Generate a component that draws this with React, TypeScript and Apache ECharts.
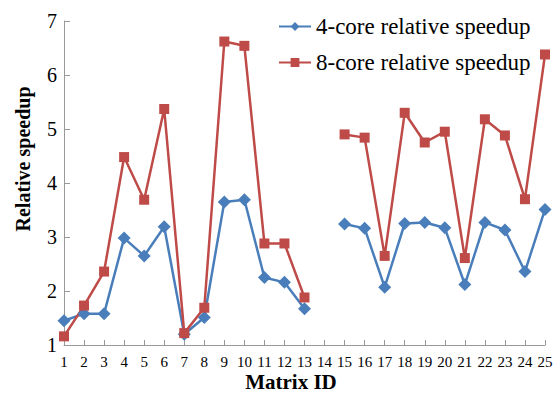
import React, { useEffect, useRef } from "react";
import * as echarts from "echarts";

const categories = ["1","2","3","4","5","6","7","8","9","10","11","12","13","14","15","16","17","18","19","20","21","22","23","24","25"];
const core4 = [1.45,1.58,1.58,2.98,2.65,3.19,1.2,1.51,3.65,3.69,2.25,2.16,1.67,null,3.24,3.16,2.07,3.25,3.27,3.17,2.12,3.27,3.13,2.36,3.51];
const core8 = [1.16,1.73,2.36,4.48,3.69,5.37,1.22,1.69,6.62,6.54,2.88,2.88,1.88,null,4.9,4.84,2.65,5.3,4.75,4.95,2.61,5.18,4.88,3.7,6.38];
const yTicks = { min: 1, max: 7, interval: 1 };
const xTitle = "Matrix ID";
const yTitle = "Relative speedup";

export default function App() {
  const ref = useRef<HTMLDivElement>(null);
  useEffect(() => {
    const chart = echarts.init(ref.current!, null, { renderer: "svg" });
    const serif = "'Liberation Serif', 'Times New Roman', serif";
    chart.setOption({
      animation: false,
      textStyle: { fontFamily: serif },
      grid: { left: 64, right: 9, top: 21, bottom: 49, containLabel: false, outerBoundsMode: "none" },
      legend: {
        orient: "vertical",
        left: 273,
        top: 10,
        itemWidth: 32,
        itemHeight: 11,
        itemGap: 13,
        textStyle: { fontFamily: serif, fontSize: 23, color: "#000" },
        data: ["4-core relative speedup", "8-core relative speedup"],
      },
      graphic: [
        {
          type: "text",
          x: 291,
          y: 382,
          style: {
            text: xTitle,
            font: `bold 21px ${serif}`,
            fill: "#000",
            textAlign: "center",
            textVerticalAlign: "middle",
          },
        },
        {
          type: "text",
          x: 23,
          y: 159,
          rotation: Math.PI / 2,
          style: {
            text: yTitle,
            font: `bold 20px ${serif}`,
            fill: "#000",
            textAlign: "center",
            textVerticalAlign: "middle",
          },
        },
      ],
      xAxis: {
        type: "category",
        data: categories,
        boundaryGap: false,
        axisLine: { lineStyle: { color: "#999", width: 1 } },
        axisTick: { show: true, inside: true, alignWithLabel: true, length: 5, lineStyle: { color: "#999" } },
        axisLabel: { interval: 0, fontFamily: serif, fontSize: 15, color: "#000", margin: 9 },
        splitLine: { show: false },
      },
      yAxis: {
        type: "value",
        min: yTicks.min,
        max: yTicks.max,
        interval: yTicks.interval,
        axisLine: { show: true, lineStyle: { color: "#999", width: 1 } },
        axisTick: { show: true, inside: true, length: 6, lineStyle: { color: "#999" } },
        axisLabel: { fontFamily: serif, fontSize: 20, color: "#000", margin: 7 },
        splitLine: { show: false },
      },
      series: [
        {
          name: "4-core relative speedup",
          type: "line",
          data: core4,
          connectNulls: false,
          symbol: "diamond",
          symbolSize: 13,
          lineStyle: { color: "#4a7ebb", width: 2.5 },
          itemStyle: { color: "#4a7ebb" },
        },
        {
          name: "8-core relative speedup",
          type: "line",
          data: core8,
          connectNulls: false,
          symbol: "rect",
          symbolSize: 10,
          lineStyle: { color: "#be4b48", width: 2.5 },
          itemStyle: { color: "#be4b48" },
        },
      ],
    });
    return () => chart.dispose();
  }, []);
  return <div ref={ref} style={{ width: 554, height: 394, position: "absolute", left: 0, top: 0 }} />;
}
